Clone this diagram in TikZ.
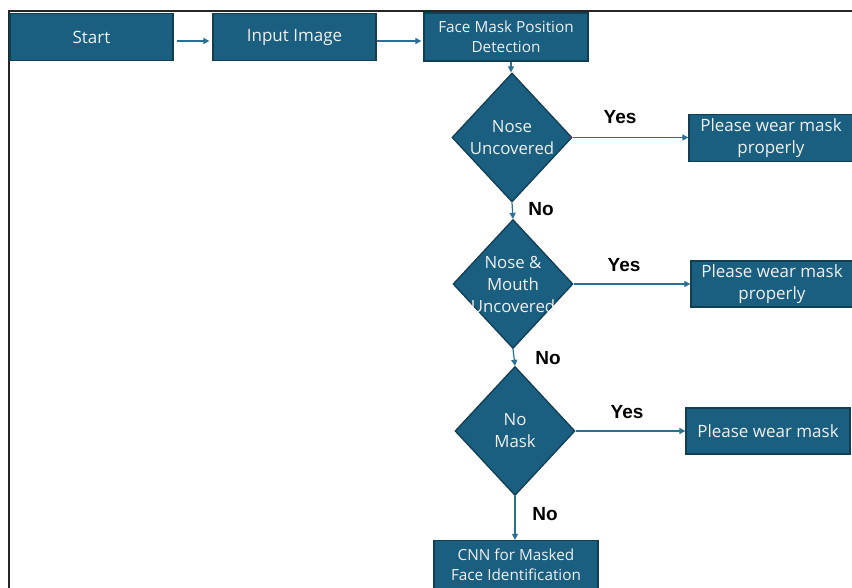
\documentclass[tikz,border=0pt]{standalone}
\usepackage{fontspec}
\setmainfont{Open Sans}
\newfontfamily\lblfont{Liberation Sans}
\usetikzlibrary{shapes.geometric,arrows.meta}
\definecolor{boxfill}{HTML}{1A5E80}
\definecolor{boxline}{HTML}{123E54}
\definecolor{arrowc}{HTML}{2A6F96}
\tikzset{
  procbox/.style={draw=boxline, line width=1.3pt, fill=boxfill, text=white!94!black, align=center, inner sep=0pt, font=\fontsize{17}{22}\selectfont},
  decbox/.style={draw=boxline, line width=1.3pt, fill=boxfill, shape=diamond, inner sep=0pt, minimum width=120pt, minimum height=129pt},
  dectext/.style={text=white!94!black, align=center, font=\fontsize{16.8}{22}\selectfont},
  flow/.style={draw=arrowc, line width=1.2pt, -{Triangle[length=6pt,width=6pt]}},
  yn/.style={font=\lblfont\bfseries\fontsize{19}{22}\selectfont, text=black}
}
\begin{document}
\begin{tikzpicture}[x=1pt,y=-1pt]
\useasboundingbox (0,0) rectangle (852,588);
\fill[white] (0,0) rectangle (852,588);
\draw[line width=1.5pt, black!85] (9,600) -- (9,11) -- (860,11);

\node[procbox, minimum width=163pt, minimum height=47pt] (start) at (91.5,37) {Start};
\node[procbox, minimum width=163pt, minimum height=47pt] (input) at (294.5,37) {Input Image};
\node[procbox, minimum width=164pt, minimum height=48pt, font=\fontsize{15.3}{20}\selectfont] (fmpd) at (506,37) {Face Mask Position\\Detection};

\node[decbox, label={[dectext]center:Nose\\Uncovered}] (d1) at (512,137.5) {};
\node[decbox, label={[dectext]center:Nose \&\\Mouth\\Uncovered}] (d2) at (513,284) {};
\node[decbox, label={[dectext]center:No\\Mask}] (d3) at (515,431) {};

\node[procbox, minimum width=164pt, minimum height=47pt] (pw1) at (771,138) {Please wear mask\\properly};
\node[procbox, minimum width=162pt, minimum height=46pt] (pw2) at (772,284) {Please wear mask\\properly};
\node[procbox, minimum width=164pt, minimum height=46pt] (pw3) at (768,431) {Please wear mask};
\node[procbox, minimum width=164pt, minimum height=49pt, font=\fontsize{15.3}{20}\selectfont] (cnn) at (516,565) {CNN for Masked\\Face Identification};

\draw[flow] ([xshift=3pt]start.east |- 0,41) -- ([xshift=-3pt]input.west |- 0,41);
\draw[flow] (input.east |- 0,41) -- ([xshift=-2pt]fmpd.west |- 0,41);
\draw[flow] (fmpd.south -| 511,0) -- (d1.north -| 511,0);
\draw[flow] (d1.east) -- (pw1.west |- d1.east);
\draw[flow] (d1.south) -- (d2.north);
\draw[flow] (d2.east) -- (pw2.west |- d2.east);
\draw[flow] (d2.south) -- (d3.north);
\draw[flow] (d3.east) -- (pw3.west |- d3.east);
\draw[flow] (d3.south) -- (d3.south |- cnn.north);

\node[yn] (y1) at (620,117) {Yes};
\node[yn] (n1) at (541,209) {No};
\node[yn] (y2) at (624,265) {Yes};
\node[yn] (n2) at (548,358) {No};
\node[yn] (y3) at (627,412) {Yes};
\node[yn] (n3) at (545,514) {No};
\end{tikzpicture}
\end{document}
